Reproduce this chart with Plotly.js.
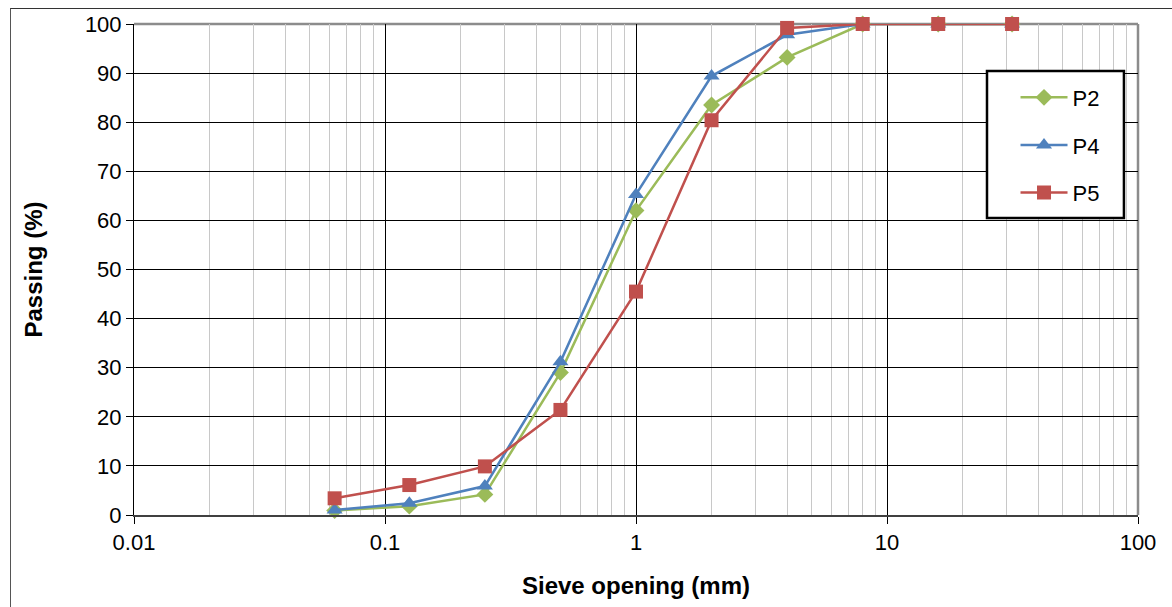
<!DOCTYPE html>
<html>
<head>
<meta charset="utf-8">
<script src="https://cdn.plot.ly/plotly-3.0.1.min.js"></script>
<style>
  html, body { margin: 0; padding: 0; background: #ffffff; }
  #chart { width: 1172px; height: 607px; position: absolute; left: 0; top: 0; }
  #frame { position: absolute; left: 10px; top: 8px; width: 1300px; height: 800px;
           border-left: 1px solid #555; border-top: 1px solid #333; pointer-events: none; z-index: 5; }
</style>
</head>
<body>
<div id="chart"></div>
<div id="frame"></div>
<script>
// Sieve openings (mm)
const sieve = [0.063, 0.125, 0.25, 0.5, 1, 2, 4, 8, 16, 31.5];
// Passing (%)
const P2 = [0.9, 1.8, 4.2, 29.0, 62.0, 83.5, 93.2, 100, 100, 100];
const P4 = [1.0, 2.4, 5.9, 31.2, 65.3, 89.4, 97.8, 100, 100, 100];
const P5 = [3.4, 6.1, 9.9, 21.4, 45.5, 80.4, 99.2, 100, 100, 100];
const seriesNames = ['P2', 'P4', 'P5'];
const xTickVals = [0.01, 0.1, 1, 10, 100];
const xTickText = ['0.01', '0.1', '1', '10', '100'];
const yTickVals = [0, 10, 20, 30, 40, 50, 60, 70, 80, 90, 100];

const font = 'Liberation Sans, Arial, sans-serif';
const traces = [
  { x: sieve, y: P2, name: seriesNames[0], type: 'scatter', mode: 'lines+markers', legendgroup: 'a', cliponaxis: false,
    line: { color: '#9BBB59', width: 2.5 }, marker: { symbol: 'diamond', size: 13, color: '#9BBB59' } },
  { x: sieve, y: P4, name: seriesNames[1], type: 'scatter', mode: 'lines+markers', legendgroup: 'b', cliponaxis: false,
    line: { color: '#4F81BD', width: 2.5 }, marker: { symbol: 'triangle-up', size: 14, color: '#4F81BD' } },
  { x: sieve, y: P5, name: seriesNames[2], type: 'scatter', mode: 'lines+markers', legendgroup: 'c', cliponaxis: false,
    line: { color: '#C0504D', width: 2.5 }, marker: { symbol: 'square', size: 14, color: '#C0504D' } }
];

const layout = {
  width: 1172, height: 607,
  margin: { l: 134, r: 34, t: 24, b: 92 },
  paper_bgcolor: '#ffffff', plot_bgcolor: '#ffffff',
  font: { family: font, size: 22, color: '#000' },
  showlegend: true,
  legend: {
    x: 0.878, y: 0.893, xanchor: 'left', yanchor: 'top',
    bgcolor: 'rgba(0,0,0,0)', borderwidth: 0,
    font: { family: font, size: 22, color: '#000' },
    tracegroupgap: 16, itemwidth: 47
  },
  xaxis: {
    type: 'log', range: [-2, 2],
    tickvals: xTickVals, ticktext: xTickText,
    ticks: 'outside', ticklen: 7, tickcolor: '#000', tickwidth: 1,
    showgrid: true, gridcolor: '#000', gridwidth: 1,
    minor: { dtick: 'D1', showgrid: true, gridcolor: '#c8c8c8', gridwidth: 1, ticks: '' },
    showline: true, linecolor: '#404040', linewidth: 2,
    zeroline: false,
    tickfont: { family: font, size: 22, color: '#000' },
    title: { text: '<b>Sieve opening (mm)</b>', font: { family: font, size: 24, color: '#000' }, standoff: 23 }
  },
  yaxis: {
    range: [0, 100], tickvals: yTickVals,
    ticks: 'outside', ticklen: 7, tickcolor: '#000', tickwidth: 1,
    showgrid: true, gridcolor: '#000', gridwidth: 1,
    showline: true, linecolor: '#000', linewidth: 1,
    zeroline: false,
    tickfont: { family: font, size: 22, color: '#000' },
    title: { text: '<b>Passing (%)</b>', font: { family: font, size: 24, color: '#000' }, standoff: 35 }
  },
  shapes: [
    { type: 'line', xref: 'paper', yref: 'paper', x0: 0, x1: 1, y0: 1, y1: 1,
      line: { color: '#8c8c8c', width: 2.5 }, layer: 'between' },
    { type: 'line', xref: 'paper', yref: 'paper', x0: 1, x1: 1, y0: 0, y1: 1,
      line: { color: '#8c8c8c', width: 2.5 }, layer: 'between' },
    { type: 'rect', xref: 'paper', yref: 'paper', x0: 0.8496, x1: 0.986, y0: 0.6049, y1: 0.9043,
      fillcolor: '#ffffff', line: { color: '#000', width: 2.5 }, layer: 'above' }
  ]
};

Plotly.newPlot('chart', traces, layout, { displayModeBar: false, staticPlot: true });
</script>
</body>
</html>
